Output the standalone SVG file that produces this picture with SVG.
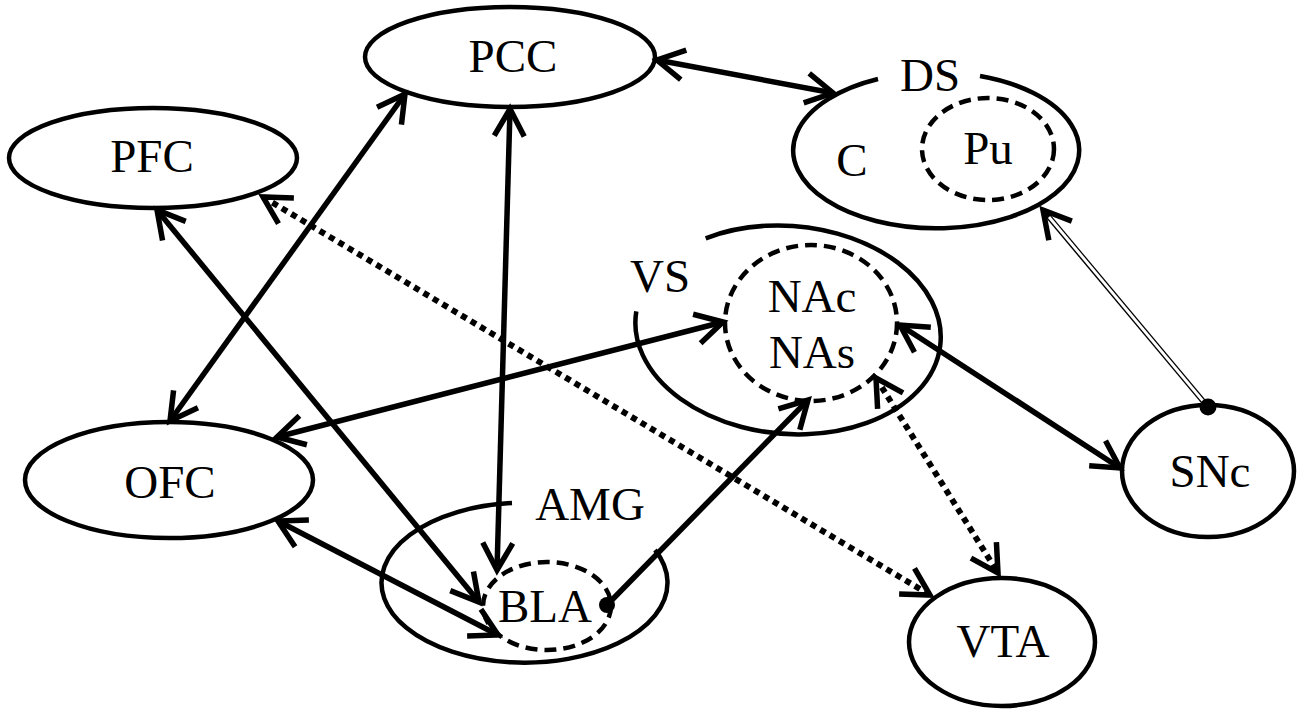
<svg xmlns="http://www.w3.org/2000/svg" width="1303" height="710" viewBox="0 0 1303 710">
<style>
.n{fill:none;stroke:#000;stroke-width:4.5}
.d{fill:none;stroke:#000;stroke-width:4.5;stroke-dasharray:12 7}
.t{font-family:"Liberation Serif","Times New Roman",serif;font-size:47px;fill:#000;text-anchor:middle}
.c{fill:none;stroke:#000;stroke-width:5.5}
.b{marker-start:url(#ah);marker-end:url(#ah)}
.e{marker-end:url(#ah)}
.dot{stroke-width:6;stroke-dasharray:6 5}
</style>
<defs>
<marker id="ah" viewBox="-34 -20 46 40" refX="0" refY="0" markerWidth="46" markerHeight="40" markerUnits="userSpaceOnUse" orient="auto-start-reverse">
<path d="M-27,-15 L0,0 L-27,15" fill="none" stroke="#000" stroke-width="5.5" stroke-linejoin="miter"/>
</marker>
</defs>
<rect width="1303" height="710" fill="#fff"/>
<g id="PCC"><ellipse class="n" cx="510" cy="57" rx="145" ry="50"/><text class="t" x="513" y="72">PCC</text></g>
<g id="PFC"><ellipse class="n" cx="153" cy="158" rx="144" ry="50"/><text class="t" x="152" y="172">PFC</text></g>
<g id="OFC"><ellipse class="n" cx="169" cy="480" rx="144" ry="58"/><text class="t" x="170" y="498">OFC</text></g>
<g id="DS"><path class="n" d="M980,76 A143,78 0 1 1 878,79"/><text class="t" x="930" y="91">DS</text><text class="t" x="852" y="176">C</text></g>
<g id="Pu"><ellipse class="d" cx="988" cy="149" rx="66" ry="51"/><text class="t" x="988" y="164">Pu</text></g>
<g id="VS"><path class="n" d="M705.7,238.3 A153,104 5 1 1 636.3,311.3"/><text class="t" x="660" y="292">VS</text></g>
<g id="NAc"><ellipse class="d" cx="811" cy="323" rx="86" ry="78"/><text class="t" x="812" y="312">NAc</text><text class="t" x="812" y="368">NAs</text></g>
<g id="AMG"><path class="n" d="M512,503 A143,80 0 1 0 655,550"/><text class="t" x="590" y="520">AMG</text></g>
<g id="BLA"><ellipse class="d" cx="547" cy="606" rx="64" ry="44"/><text class="t" x="545" y="622">BLA</text></g>
<g id="VTA"><ellipse class="n" cx="1002" cy="642" rx="93" ry="64"/><text class="t" x="1003" y="657">VTA</text></g>
<g id="SNc"><ellipse class="n" cx="1208" cy="471" rx="86" ry="66"/><text class="t" x="1210" y="487">SNc</text></g>
<g id="connectors">
<line class="c b" x1="657" y1="60" x2="833" y2="93"/>
<line class="c b" x1="405" y1="94" x2="170" y2="421"/>
<line class="c b" x1="510" y1="109" x2="497" y2="570"/>
<line class="c b" x1="157" y1="210" x2="479" y2="602"/>
<line class="c b" x1="278" y1="521" x2="498" y2="635"/>
<line class="c b" x1="277" y1="437" x2="723" y2="322"/>
<line class="c e" x1="607" y1="605" x2="808" y2="400"/>
<line class="c b dot" x1="263" y1="197" x2="930" y2="595"/>
<line class="c b dot" x1="876" y1="378" x2="998" y2="573"/>
<line class="c b" x1="900" y1="325" x2="1120" y2="468"/>
<line class="c e" x1="1208" y1="407" x2="1043" y2="210" stroke-width="7.5"/>
<line x1="1208" y1="407" x2="1049" y2="217" stroke="#fff" stroke-width="2.8"/>
<circle cx="607" cy="605" r="8"/>
<circle cx="1208" cy="407" r="8.5"/>
</g>
</svg>
